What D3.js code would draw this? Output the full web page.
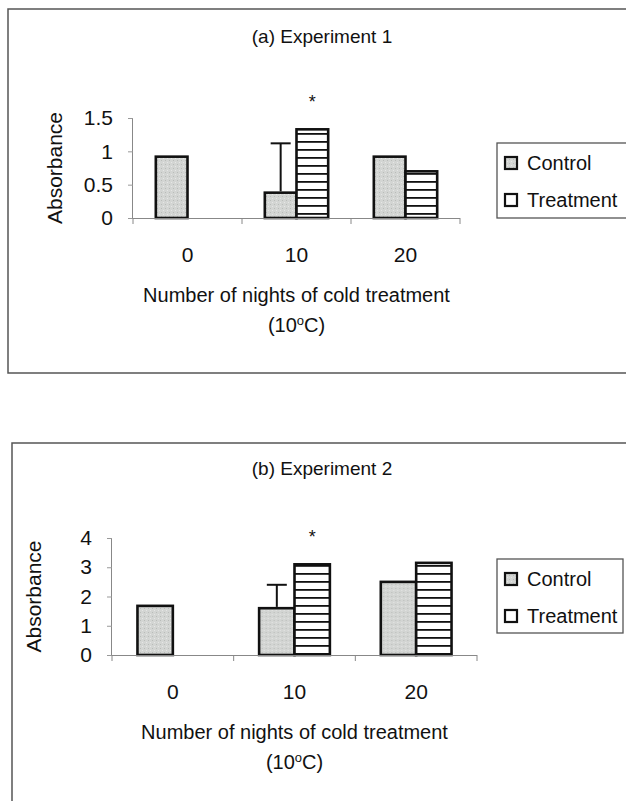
<!DOCTYPE html>
<html>
<head>
<meta charset="utf-8">
<script src="https://cdn.jsdelivr.net/npm/d3@7"></script>
<style>
  html, body { margin: 0; padding: 0; background: #fff; }
  svg { display: block; font-family: "Liberation Sans", Arial, sans-serif; }
</style>
</head>
<body>
<svg id="chart" width="626" height="801"></svg>
<script>
// ---------------- data ----------------
const categories = ["0", "10", "20"];
const seriesNames = ["Control", "Treatment"];
const panelTitles = ["(a) Experiment 1", "(b) Experiment 2"];

const exp1Control = [0.92, 0.38, 0.92];
const exp1Treatment = [null, 1.33, 0.70];
const exp1ControlErr = [null, 0.74, null];
const exp1Ticks = [0, 0.5, 1, 1.5];
const exp1Max = 1.5;

const exp2Control = [1.68, 1.60, 2.50];
const exp2Treatment = [null, 3.10, 3.15];
const exp2ControlErr = [null, 0.80, null];
const exp2Ticks = [0, 1, 2, 3, 4];
const exp2Max = 4;

const significantCategories = ["10"];
const yAxisLabel = "Absorbance";
const xAxisLabel1 = "Number of nights of cold treatment";

// ---------------- layout ----------------
const svg = d3.select("#chart");
const defs = svg.append("defs");

// control fill: speckled light grey
const pc = defs.append("pattern").attr("id", "ctrlFill")
  .attr("patternUnits", "userSpaceOnUse").attr("width", 4).attr("height", 4);
pc.append("rect").attr("width", 4).attr("height", 4).attr("fill", "#d3d5d3");
pc.append("rect").attr("x", 0).attr("y", 0).attr("width", 1).attr("height", 1).attr("fill", "#b9bcb9");
pc.append("rect").attr("x", 2).attr("y", 2).attr("width", 1).attr("height", 1).attr("fill", "#e6e7e6");

// treatment fill: horizontal black lines
const pt = defs.append("pattern").attr("id", "treatFill")
  .attr("patternUnits", "userSpaceOnUse").attr("width", 8).attr("height", 8);
pt.append("rect").attr("width", 8).attr("height", 8).attr("fill", "#fff");
pt.append("rect").attr("x", 0).attr("y", 5).attr("width", 8).attr("height", 1.8).attr("fill", "#111");

const panels = [
  {
    title: panelTitles[0], control: exp1Control, treatment: exp1Treatment, err: exp1ControlErr,
    ticks: exp1Ticks, max: exp1Max,
    frame: { x: 8, y: 9, w: 640, h: 364 },
    titleY: 43,
    x0: 133, x1: 460, yTop: 118, yBot: 218,
    legend: { x: 497, y: 143, w: 131, h: 75 }
  },
  {
    title: panelTitles[1], control: exp2Control, treatment: exp2Treatment, err: exp2ControlErr,
    ticks: exp2Ticks, max: exp2Max,
    frame: { x: 12, y: 443, w: 640, h: 400 },
    titleY: 475,
    x0: 112, x1: 477, yTop: 538, yBot: 655,
    legend: { x: 497, y: 559, w: 126, h: 74 }
  }
];

panels.forEach(p => {
  const g = svg.append("g");

  // outer frame
  g.append("rect")
    .attr("x", p.frame.x).attr("y", p.frame.y)
    .attr("width", p.frame.w).attr("height", p.frame.h)
    .attr("fill", "none").attr("stroke", "#555").attr("stroke-width", 1.5);

  // title
  g.append("text").attr("x", 322).attr("y", p.titleY)
    .attr("text-anchor", "middle").attr("font-size", 19).attr("fill", "#111")
    .text(p.title);

  const x = d3.scaleBand().domain(categories).range([p.x0, p.x1]).paddingInner(0).paddingOuter(0);
  const xs = d3.scaleBand().domain(seriesNames).range([0, x.bandwidth()]).paddingInner(0).paddingOuter(0.72);
  const y = d3.scaleLinear().domain([0, p.max]).range([p.yBot, p.yTop]);

  // y axis
  const yAxis = d3.axisLeft(y).tickValues(p.ticks).tickSize(5).tickPadding(15)
    .tickFormat(d3.format("~g"));
  const ya = g.append("g").attr("transform", `translate(${p.x0},0)`).call(yAxis);
  ya.select(".domain").attr("stroke", "#888").attr("d", `M-0.5,${p.yTop}V${p.yBot}`);
  ya.selectAll(".tick line").attr("stroke", "#999");
  ya.selectAll(".tick text").attr("font-size", 21).attr("fill", "#111")
    .attr("font-family", "'Liberation Sans', Arial, sans-serif");

  // y axis title
  g.append("text")
    .attr("transform", `translate(${p.x0 - 71},${(p.yTop + p.yBot) / 2}) rotate(-90)`)
    .attr("text-anchor", "middle").attr("font-size", 21).attr("fill", "#111")
    .text(yAxisLabel);

  // bars
  const rows = categories.map((c, i) => ({
    cat: c,
    vals: [
      { s: "Control", v: p.control[i], e: p.err[i] },
      { s: "Treatment", v: p.treatment[i], e: null }
    ]
  }));

  const groups = g.selectAll(".grp").data(rows).join("g")
    .attr("class", "grp")
    .attr("transform", d => `translate(${x(d.cat)},0)`);

  groups.selectAll("rect").data(d => d.vals.filter(v => v.v != null)).join("rect")
    .attr("x", d => xs(d.s))
    .attr("y", d => y(d.v))
    .attr("width", xs.bandwidth())
    .attr("height", d => y(0) - y(d.v))
    .attr("fill", d => d.s === "Control" ? "url(#ctrlFill)" : "url(#treatFill)")
    .attr("stroke", "#111").attr("stroke-width", 2.6);

  // error bars (plus direction only)
  groups.each(function(d) {
    const gg = d3.select(this);
    d.vals.filter(v => v.v != null && v.e != null).forEach(v => {
      const cx = xs(v.s) + xs.bandwidth() / 2;
      const top = y(v.v + v.e);
      gg.append("line").attr("x1", cx).attr("x2", cx)
        .attr("y1", y(v.v) - 1.3).attr("y2", top)
        .attr("stroke", "#111").attr("stroke-width", 2);
      gg.append("line").attr("x1", cx - 10).attr("x2", cx + 10)
        .attr("y1", top).attr("y2", top)
        .attr("stroke", "#111").attr("stroke-width", 2);
    });
  });

  // significance asterisks
  rows.filter(r => significantCategories.includes(r.cat)).forEach(r => {
    const tv = r.vals.find(v => v.s === "Treatment");
    g.append("text")
      .attr("x", x(r.cat) + xs(tv.s) + xs.bandwidth() / 2)
      .attr("y", y(tv.v) - 21)
      .attr("text-anchor", "middle").attr("font-size", 18).attr("fill", "#111")
      .text("*");
  });

  // x axis
  const xAxis = d3.axisBottom(x).tickSize(0).tickPadding(29);
  const xa = g.append("g").attr("transform", `translate(0,${p.yBot})`).call(xAxis);
  xa.select(".domain").attr("stroke", "#888").attr("d", `M${p.x0},0.5H${p.x1}`);
  xa.selectAll(".tick text").attr("font-size", 21).attr("fill", "#111")
    .attr("font-family", "'Liberation Sans', Arial, sans-serif");
  // boundary tick marks
  const bounds = categories.map(c => x(c)).concat([x(categories[categories.length - 1]) + x.bandwidth()]);
  xa.selectAll(".btick").data(bounds).join("line").attr("class", "btick")
    .attr("x1", d => d).attr("x2", d => d).attr("y1", 0).attr("y2", 6)
    .attr("stroke", "#888");

  // x axis title
  const cx = (p.x0 + p.x1) / 2;
  g.append("text").attr("x", cx).attr("y", p.yBot + 84)
    .attr("text-anchor", "middle").attr("font-size", 20).attr("fill", "#111")
    .text(xAxisLabel1);
  const t2 = g.append("text").attr("x", cx).attr("y", p.yBot + 114)
    .attr("text-anchor", "middle").attr("font-size", 20).attr("fill", "#111");
  t2.append("tspan").text("(10");
  t2.append("tspan").attr("font-size", 13).attr("dy", -7).text("o");
  t2.append("tspan").attr("dy", 7).text("C)");

  // legend
  const L = p.legend;
  const lg = g.append("g").attr("transform", `translate(${L.x},${L.y})`);
  lg.append("rect").attr("width", L.w).attr("height", L.h)
    .attr("fill", "#fff").attr("stroke", "#555").attr("stroke-width", 1.3);
  seriesNames.forEach((s, i) => {
    const yy = 20 + i * 37;
    lg.append("rect").attr("x", 8).attr("y", yy - 6).attr("width", 12).attr("height", 12)
      .attr("fill", s === "Control" ? "url(#ctrlFill)" : "#fff")
      .attr("stroke", "#111").attr("stroke-width", 2.2);
    lg.append("text").attr("x", 30).attr("y", yy + 7)
      .attr("font-size", 20).attr("fill", "#111").text(s);
  });
});
</script>
</body>
</html>
